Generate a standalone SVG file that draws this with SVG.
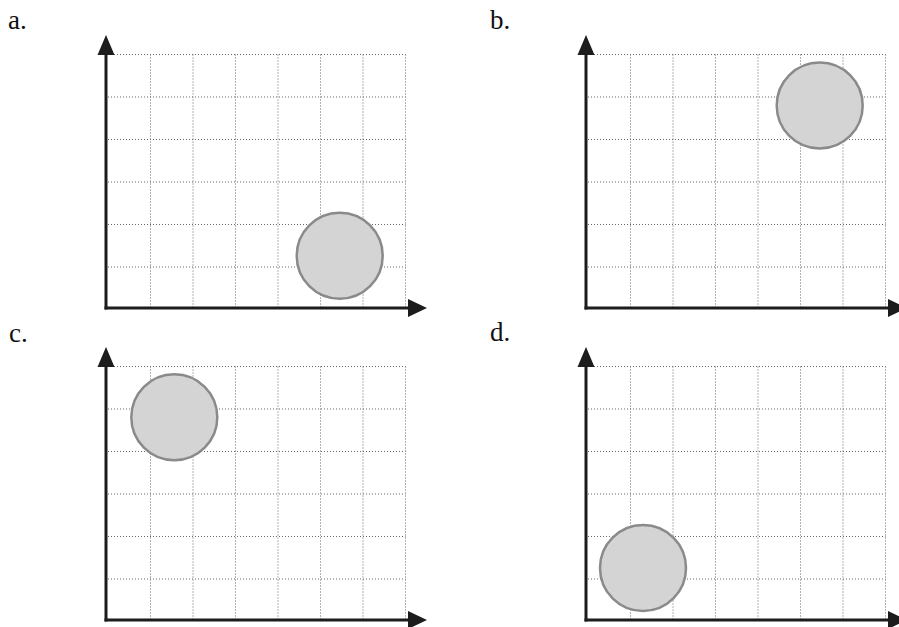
<svg xmlns="http://www.w3.org/2000/svg" xmlns:xlink="http://www.w3.org/1999/xlink" width="899" height="627" viewBox="0 0 899 627">
<style>
.lbl{font-family:"Liberation Serif","Times New Roman",serif;font-size:27px;fill:#111}
.grid line{stroke:#666;stroke-width:1;stroke-dasharray:1 2}
.axis{stroke:#1c1c1c;stroke-width:3;fill:none}
.head{fill:#1c1c1c}
.dot{fill:#d4d4d4;stroke:#8a8a8a;stroke-width:2.5}
</style>
<defs>
<g id="gridT" class="grid">
<line x1="2" y1="-253.5" x2="299.5" y2="-253.5"/>
<line x1="2" y1="-211" x2="299.5" y2="-211"/>
<line x1="2" y1="-168.5" x2="299.5" y2="-168.5"/>
<line x1="2" y1="-126" x2="299.5" y2="-126"/>
<line x1="2" y1="-83.5" x2="299.5" y2="-83.5"/>
<line x1="2" y1="-41" x2="299.5" y2="-41"/>
<line x1="44.5" y1="-253.5" x2="44.5" y2="0"/>
<line x1="87" y1="-253.5" x2="87" y2="0"/>
<line x1="129.5" y1="-253.5" x2="129.5" y2="0"/>
<line x1="172" y1="-253.5" x2="172" y2="0"/>
<line x1="214.5" y1="-253.5" x2="214.5" y2="0"/>
<line x1="257" y1="-253.5" x2="257" y2="0"/>
<line x1="299.5" y1="-253.5" x2="299.5" y2="0"/>
</g>
<g id="axesT">
<line class="axis" x1="0" y1="1.5" x2="0" y2="-254"/>
<line class="axis" x1="-1.5" y1="0" x2="304" y2="0"/>
<polygon class="head" points="0,-273 8.5,-253 -8.5,-253"/>
<polygon class="head" points="321,0 302,-9 302,9"/>
</g>
</defs>
<g id="panel-a" transform="translate(106,308)">
<use xlink:href="#gridT"/>
<circle class="dot" cx="233.7" cy="-52.2" r="43"/>
<use xlink:href="#axesT"/>
</g>
<g id="panel-b" transform="translate(586,308)">
<use xlink:href="#gridT"/>
<circle class="dot" cx="233.7" cy="-202.5" r="43"/>
<use xlink:href="#axesT"/>
</g>
<g id="panel-c" transform="translate(106,620)">
<use xlink:href="#gridT"/>
<circle class="dot" cx="68.3" cy="-202.7" r="43"/>
<use xlink:href="#axesT"/>
</g>
<g id="panel-d" transform="translate(586,620)">
<use xlink:href="#gridT"/>
<circle class="dot" cx="57" cy="-52" r="43"/>
<use xlink:href="#axesT"/>
</g>
<g id="labels">
<text class="lbl" x="8" y="29">a.</text>
<text class="lbl" x="490" y="29">b.</text>
<text class="lbl" x="9" y="341.5">c.</text>
<text class="lbl" x="490" y="341">d.</text>
</g>
</svg>
